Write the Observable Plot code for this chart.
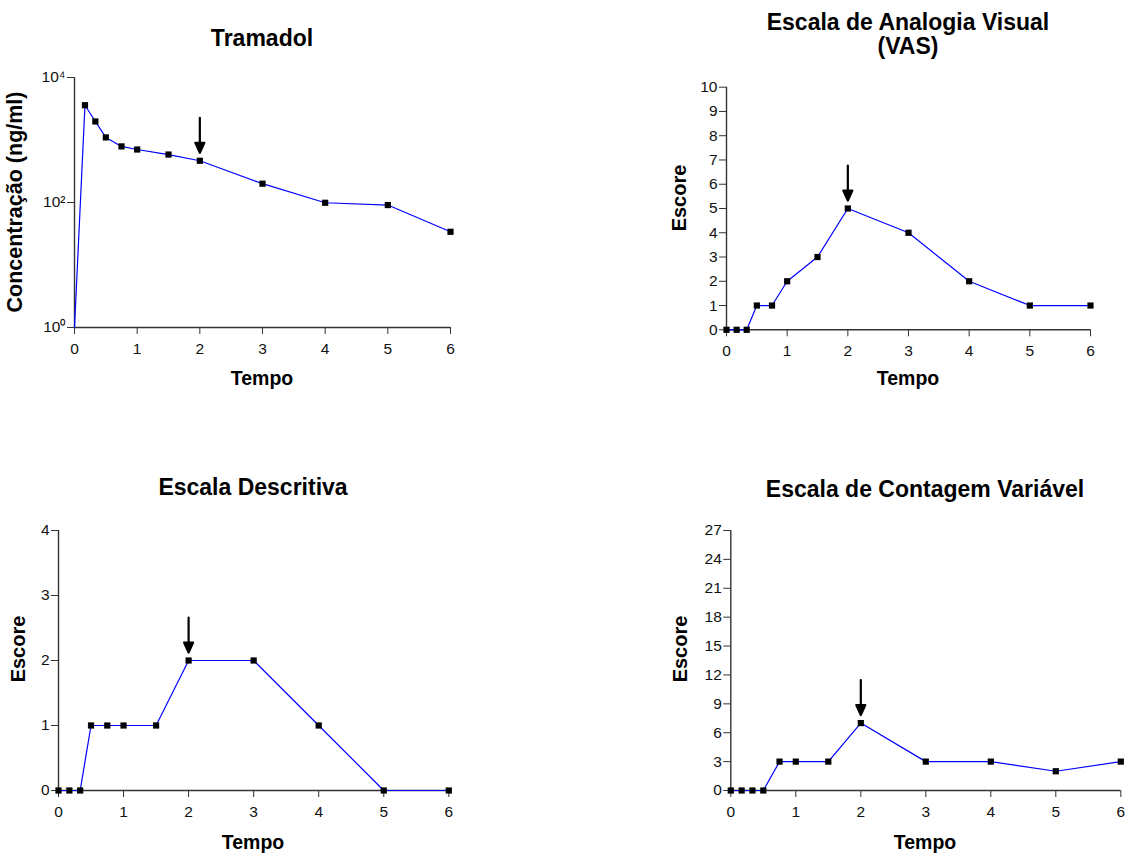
<!DOCTYPE html>
<html><head><meta charset="utf-8">
<script src="https://cdn.jsdelivr.net/npm/d3@7"></script>
<script src="https://cdn.jsdelivr.net/npm/@observablehq/plot@0.6"></script>
<style>
body{margin:0;background:#fff;font-family:"Liberation Sans",Arial,sans-serif;}
#root{position:relative;width:1128px;height:853px;overflow:hidden;background:#fff;}
.panel{position:absolute;}
.panel svg{overflow:visible;}
.panel svg text{font-size:15.5px !important;font-family:"Liberation Sans",Arial,sans-serif;fill:#111;}
.txt{position:absolute;font-weight:bold;white-space:nowrap;line-height:1;color:#000;text-align:center;}
.ylab{position:absolute;font-weight:bold;white-space:nowrap;line-height:1;color:#000;transform:translate(-50%,-50%) rotate(-90deg);}
</style></head>
<body><div id="root"></div>
<script>
// ---- data ----
const tempo = [0, 0.167, 0.333, 0.5, 0.75, 1, 1.5, 2, 3, 4, 5, 6];
const tramadol = [1, 3600, 1980, 1100, 790, 705, 585, 465, 200, 99, 91, 34];
const vas = [0, 0, 0, 1, 1, 2, 3, 5, 4, 2, 1, 1];
const descritiva = [0, 0, 0, 1, 1, 1, 1, 2, 2, 1, 0, 0];
const contagem = [0, 0, 0, 0, 3, 3, 3, 7, 3, 3, 2, 3];
const xTicks = [0, 1, 2, 3, 4, 5, 6];
const tramadolTicks = [1, 100, 10000];
const vasTicks = [0, 1, 2, 3, 4, 5, 6, 7, 8, 9, 10];
const descTicks = [0, 1, 2, 3, 4];
const contTicks = [0, 3, 6, 9, 12, 15, 18, 21, 24, 27];
const arrowTime = 2;
const titles = ["Tramadol", "Escala de Analogia Visual\n(VAS)", "Escala Descritiva", "Escala de Contagem Variável"];
const xLabel = "Tempo";
const yLabels = ["Concentração (ng/ml)", "Escore", "Escore", "Escore"];

const root = document.getElementById("root");
const FONT = '"Liberation Sans", Arial, sans-serif';
const sup = {"0":"\u2070","1":"\u00B9","2":"\u00B2","3":"\u00B3","4":"\u2074"};

const arrowShape = {
  draw(ctx, l) {
    ctx.moveTo(0, 0);
    ctx.lineTo(0, -l + 8);
    ctx.moveTo(-4.5, -l + 10);
    ctx.lineTo(0, -l);
    ctx.lineTo(4.5, -l + 10);
    ctx.closePath();
  }
};

function panel(o) {
  const data = tempo.map((t, i) => ({t, v: o.values[i]}));
  const svg = Plot.plot({
    width: o.width, height: o.height,
    marginLeft: o.mL, marginRight: o.mR, marginTop: o.mT, marginBottom: o.mB,
    x: {domain: [0, 6]},
    y: {type: o.yType || "linear", domain: o.yDomain},
    style: {fontFamily: FONT, fontSize: "15.5px", color: "#000", background: "transparent"},
    marks: [
      Plot.axisX({ticks: xTicks, tickSize: 7, tickPadding: 8, tickFormat: d => String(d), label: null, fontSize: 15.5, stroke: "#333"}),
      Plot.axisY({ticks: o.yTicks, tickSize: 7, tickPadding: 2, tickFormat: o.yFormat || (d => String(d)), label: null, fontSize: 15.5, stroke: "#333"}),
      Plot.ruleY([o.yDomain[0]], {stroke: "#333", strokeWidth: 1.6}),
      Plot.ruleX([0], {stroke: "#333", strokeWidth: 1.4}),
      Plot.line(data, {x: "t", y: "v", stroke: "#0000ff", strokeWidth: 1.2}),
      Plot.dot(o.dotFilter ? data.filter(o.dotFilter) : data, {x: "t", y: "v", symbol: "square", r: 3.5, fill: "black", stroke: "none"}),
      Plot.vector(data.filter(d => d.t === arrowTime), {x: "t", y: "v", length: 35, rotate: 180, anchor: "end", dy: -8, shape: arrowShape, fill: "black", stroke: "black", strokeWidth: 2.2})
    ]
  });
  const div = document.createElement("div");
  div.className = "panel";
  div.style.left = o.left + "px";
  div.style.top = o.top + "px";
  div.appendChild(svg);
  root.appendChild(div);
}

function text(str, cx, baseline, size) {
  const lines = str.split("\n");
  lines.forEach((s, i) => {
    const d = document.createElement("div");
    d.className = "txt";
    d.textContent = s;
    d.style.fontSize = size + "px";
    d.style.left = cx + "px";
    d.style.top = (baseline[i] - 0.846 * size) + "px";
    d.style.transform = "translateX(-50%)";
    root.appendChild(d);
  });
}
function ylab(str, cx, cy, size) {
  const d = document.createElement("div");
  d.className = "ylab";
  d.textContent = str;
  d.style.fontSize = size + "px";
  d.style.left = cx + "px";
  d.style.top = cy + "px";
  root.appendChild(d);
}

// Panel 1: Tramadol (log)
panel({left: 0, top: 60, width: 470, height: 300, mL: 74, mR: 20, mT: 17, mB: 33,
  yType: "log", yDomain: [1, 10000], yTicks: tramadolTicks,
  yFormat: d => "10" + sup[String(Math.round(Math.log10(d)))],
  values: tramadol, dotFilter: d => d.v > 1});
// Panel 2: VAS
panel({left: 660, top: 70, width: 468, height: 290, mL: 66, mR: 38, mT: 16.7, mB: 30.7,
  yDomain: [0, 10], yTicks: vasTicks, values: vas});
// Panel 3: Descritiva
panel({left: 0, top: 510, width: 470, height: 310, mL: 58, mR: 21.7, mT: 20, mB: 30,
  yDomain: [0, 4], yTicks: descTicks, values: descritiva});
// Panel 4: Contagem
panel({left: 660, top: 510, width: 468, height: 310, mL: 70.3, mR: 7.7, mT: 20, mB: 30,
  yDomain: [0, 27], yTicks: contTicks, values: contagem});

text(titles[0], 262, [46], 23);
text(titles[1], 908, [30, 54], 23);
text(titles[2], 253, [495], 23);
text(titles[3], 925, [497], 23);

text(xLabel, 262, [385], 19.5);
text(xLabel, 908, [385], 19.5);
text(xLabel, 253, [849], 19.5);
text(xLabel, 925, [849], 19.5);

ylab(yLabels[0], 16, 202, 21.5);
ylab(yLabels[1], 679, 198, 20);
ylab(yLabels[2], 18, 649, 20);
ylab(yLabels[3], 680, 649, 20);
</script>
</body></html>
